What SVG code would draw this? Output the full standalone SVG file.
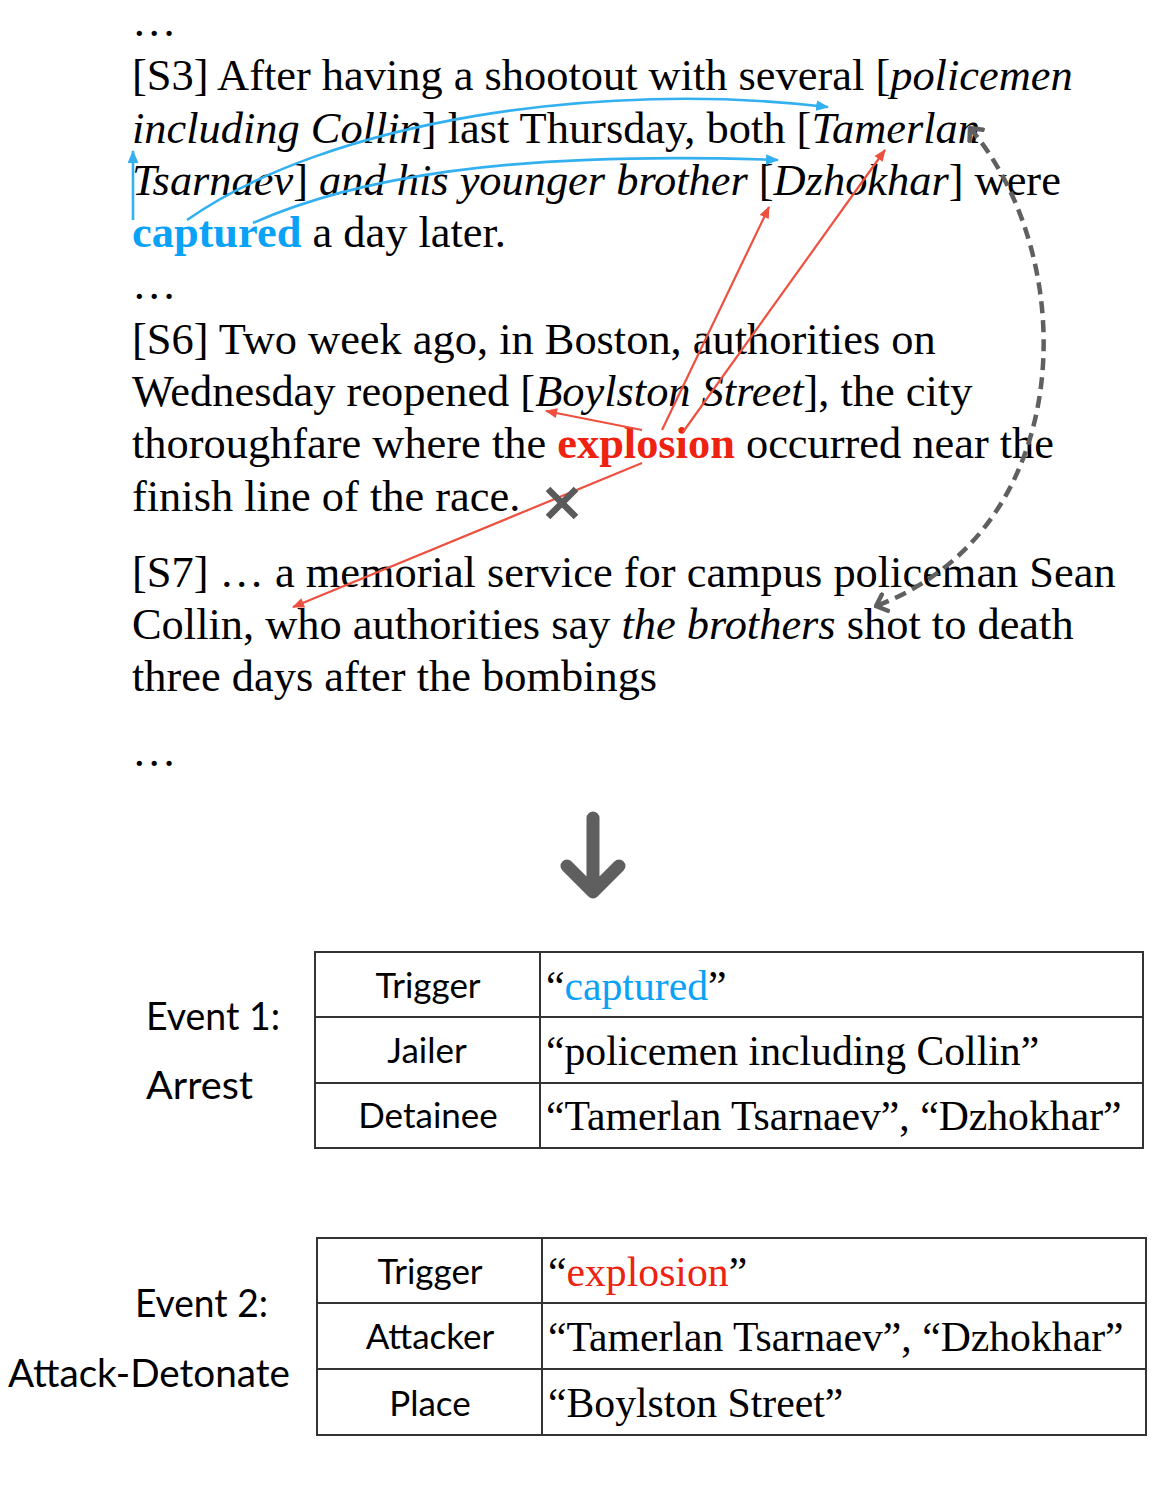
<svg xmlns="http://www.w3.org/2000/svg" width="1166" height="1501" viewBox="0 0 1166 1501">
<defs>
<style>
.t{font-family:"Liberation Serif","Times New Roman",serif;font-size:44.4px;fill:#000}
.i{font-style:italic}
.cap{font-weight:bold;fill:#0AA2F6}
.exp{font-weight:bold;fill:#EE2211}
.lab{font-family:Lato,"Open Sans",sans-serif;font-size:38px;fill:#000}
.cell{font-family:Lato,"Open Sans",sans-serif;font-size:35px;fill:#000;text-anchor:middle}
.val{font-family:"Liberation Serif","Times New Roman",serif;font-size:41.7px;fill:#000}
.grid{fill:none;stroke:#333;stroke-width:2}
.blue{fill:none;stroke:#33B0F0;stroke-width:2.6}
.red{fill:none;stroke:#EE5040;stroke-width:2.2}
</style>
<marker id="ab" viewBox="0 0 12 10" refX="11" refY="5" markerWidth="13" markerHeight="11" markerUnits="userSpaceOnUse" orient="auto"><path d="M0,0 L12,5 L0,10 Z" fill="#33B0F0"/></marker>
<marker id="ar" viewBox="0 0 12 10" refX="11" refY="5" markerWidth="13" markerHeight="10" markerUnits="userSpaceOnUse" orient="auto"><path d="M0,0 L12,5 L0,10 Z" fill="#EE5040"/></marker>
<marker id="ag" viewBox="0 0 14 22" refX="12" refY="11" markerWidth="14" markerHeight="22" markerUnits="userSpaceOnUse" orient="auto-start-reverse"><path d="M1,1 L12,11 L1,21" fill="none" stroke="#606060" stroke-width="4.5"/></marker>
</defs>
<rect width="1166" height="1501" fill="#fff"/>

<g id="passage">
<text class="t" x="132" y="36">…</text>
<text class="t" x="132" y="90">[S3] After having a shootout with several [<tspan class="i">policemen</tspan></text>
<text class="t" x="132" y="143"><tspan class="i">including Collin</tspan>] last Thursday, both [<tspan class="i">Tamerlan</tspan></text>
<text class="t" x="132" y="195"><tspan class="i">Tsarnaev</tspan>] <tspan class="i">and his younger brother</tspan> [<tspan class="i">Dzhokhar</tspan>] were</text>
<text class="t" x="132" y="247"><tspan class="cap">captured</tspan> a day later.</text>
<text class="t" x="132" y="299">…</text>
<text class="t" x="132" y="354">[S6] Two week ago, in Boston, authorities on</text>
<text class="t" x="132" y="406">Wednesday reopened [<tspan class="i">Boylston Street</tspan>], the city</text>
<text class="t" x="132" y="458">thoroughfare where the <tspan class="exp">explosion</tspan> occurred near the</text>
<text class="t" x="132" y="511">finish line of the race.</text>
<text class="t" x="132" y="587">[S7] … a memorial service for campus policeman Sean</text>
<text class="t" x="132" y="639">Collin, who authorities say <tspan class="i">the brothers</tspan> shot to death</text>
<text class="t" x="132" y="691">three days after the bombings</text>
<text class="t" x="132" y="766">…</text>
</g>

<g id="connectors">
<path class="blue" d="M133,220 L133,151" marker-end="url(#ab)"/>
<path class="blue" d="M187,220 C330,120 600,80 828,107" marker-end="url(#ab)"/>
<path class="blue" d="M253,223 C350,180 500,150 778,160" marker-end="url(#ab)"/>
<path class="red" d="M642,430 L546,411" marker-end="url(#ar)"/>
<path class="red" d="M662,430 L769,207" marker-end="url(#ar)"/>
<path class="red" d="M683,432 L885,150" marker-end="url(#ar)"/>
<path class="red" d="M642,463 L293,607" marker-end="url(#ar)"/>
<path d="M970,128 C1082,260 1078,530 876,606" fill="none" stroke="#606060" stroke-width="4.5" stroke-dasharray="12,7" marker-start="url(#ag)" marker-end="url(#ag)"/>
<g id="cross" stroke="#5A5A5A" stroke-width="6.5"><path d="M548,489 L576,517 M576,489 L548,517"/></g>
</g>

<g id="down-arrow" fill="none" stroke="#5F5F5F" stroke-width="13" stroke-linecap="round" stroke-linejoin="round">
<path d="M593,818 L593,892 M567,866 L593,892 L619,866"/>
</g>

<g id="event1">
<text class="lab" x="146" y="1030" textLength="134" lengthAdjust="spacingAndGlyphs">Event 1:</text>
<text class="lab" x="146" y="1099" textLength="107" lengthAdjust="spacingAndGlyphs">Arrest</text>
<rect class="grid" x="315" y="952" width="828" height="196"/>
<path class="grid" d="M540,952 V1148 M315,1017 H1143 M315,1083 H1143"/>
<text class="cell" x="428" y="998">Trigger</text>
<text class="cell" x="427" y="1063">Jailer</text>
<text class="cell" x="428" y="1128">Detainee</text>
<text class="val" x="546" y="1000">“<tspan fill="#0AA2F6">captured</tspan>”</text>
<text class="val" x="546" y="1065">“policemen including Collin”</text>
<text class="val" x="546" y="1130">“Tamerlan Tsarnaev”, “Dzhokhar”</text>
</g>

<g id="event2">
<text class="lab" x="135" y="1317" textLength="133" lengthAdjust="spacingAndGlyphs">Event 2:</text>
<text class="lab" x="8" y="1387" textLength="282" lengthAdjust="spacingAndGlyphs">Attack-Detonate</text>
<rect class="grid" x="317" y="1238" width="829" height="197"/>
<path class="grid" d="M542,1238 V1435 M317,1303 H1146 M317,1369 H1146"/>
<text class="cell" x="430" y="1284">Trigger</text>
<text class="cell" x="430" y="1349">Attacker</text>
<text class="cell" x="430" y="1416">Place</text>
<text class="val" x="548" y="1286">“<tspan fill="#EE2211">explosion</tspan>”</text>
<text class="val" x="548" y="1351">“Tamerlan Tsarnaev”, “Dzhokhar”</text>
<text class="val" x="548" y="1417">“Boylston Street”</text>
</g>
</svg>
